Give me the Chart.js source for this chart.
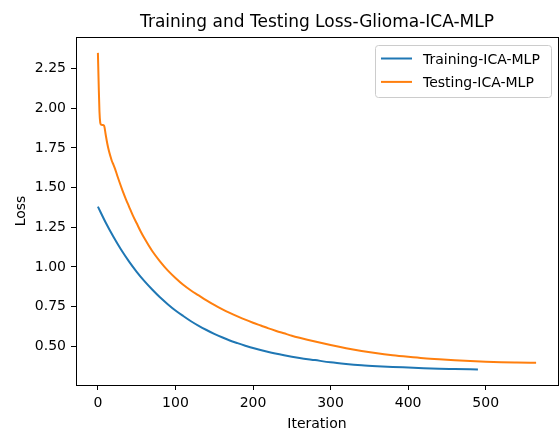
<!DOCTYPE html>
<html>
<head>
<meta charset="utf-8">
<script src="https://cdn.jsdelivr.net/npm/chart.js@4.4.0/dist/chart.umd.min.js"></script>
<style>
  html, body { margin: 0; padding: 0; background: #fff; }
  canvas { display: block; }
</style>
</head>
<body>
<canvas id="lossChart" width="560" height="433"></canvas>
<script>
const chartTitle = "Training and Testing Loss-Glioma-ICA-MLP";
const seriesNames = ["Training-ICA-MLP", "Testing-ICA-MLP"];
const seriesColors = ["#1f77b4", "#ff7f0e"];

const trainIter = [0, 10, 20, 30, 40, 50, 60, 70, 80, 90, 100, 110, 120, 130, 140, 150, 160, 170, 180, 190,
                   200, 220, 240, 260, 280, 300, 320, 340, 360, 380, 400, 420, 440, 460, 480, 490];
const trainLoss = [1.380, 1.280, 1.190, 1.108, 1.035, 0.969, 0.910, 0.857, 0.808, 0.765, 0.725, 0.690, 0.657,
                   0.628, 0.602, 0.578, 0.556, 0.536, 0.519, 0.503, 0.488, 0.463, 0.443, 0.426, 0.412, 0.398,
                   0.388, 0.380, 0.374, 0.369, 0.365, 0.361, 0.358, 0.356, 0.354, 0.353];

const testIter = [0, 1, 2, 3, 4, 6, 8, 10, 12, 14, 16, 18, 20, 22, 25, 28, 32, 36, 40, 45, 50, 55, 60, 70, 80,
                  90, 100, 110, 120, 130, 140, 150, 160, 170, 180, 190, 200, 210, 220, 230, 240, 250, 260, 280,
                  300, 320, 340, 360, 380, 400, 420, 440, 460, 480, 500, 520, 540, 565];
const testLoss = [2.350, 2.150, 1.980, 1.910, 1.897, 1.895, 1.890, 1.835, 1.780, 1.735, 1.700, 1.668, 1.645,
                  1.620, 1.575, 1.532, 1.478, 1.428, 1.382, 1.325, 1.275, 1.225, 1.180, 1.100, 1.035, 0.978,
                  0.930, 0.887, 0.851, 0.820, 0.789, 0.760, 0.734, 0.710, 0.688, 0.667, 0.648, 0.630, 0.612,
                  0.596, 0.581, 0.566, 0.553, 0.529, 0.507, 0.487, 0.470, 0.455, 0.443, 0.433, 0.424, 0.417,
                  0.411, 0.406, 0.402, 0.399, 0.397, 0.395];

const xTicks = [0, 100, 200, 300, 400, 500];
const yTicks = [0.50, 0.75, 1.00, 1.25, 1.50, 1.75, 2.00, 2.25];

const FONT = "'DejaVu Sans', sans-serif";

// frame, title and legend drawn the matplotlib way
const framePlugin = {
    id: "frame",
    afterDraw(chart) {
        const ctx = chart.ctx;
        const a = chart.chartArea;
        ctx.save();
        ctx.strokeStyle = "#000";
        ctx.lineWidth = 1;
        ctx.strokeRect(Math.round(a.left) + 0.5, Math.round(a.top) + 0.5,
                       Math.round(a.right - a.left), Math.round(a.bottom - a.top));

        ctx.fillStyle = "#000";
        ctx.font = "17px " + FONT;
        ctx.textAlign = "center";
        ctx.textBaseline = "alphabetic";
        ctx.fillText(chartTitle, (a.left + a.right) / 2, 27);

        // legend box
        const bx = 375, by = 45, bw = 176, bh = 52;
        ctx.beginPath();
        ctx.roundRect(bx + 0.5, by + 0.5, bw, bh, 3);
        ctx.fillStyle = "rgba(255,255,255,0.8)";
        ctx.fill();
        ctx.strokeStyle = "#cccccc";
        ctx.stroke();

        ctx.font = "14px " + FONT;
        ctx.textAlign = "left";
        chart.data.datasets.forEach((ds, i) => {
            const y = 58.5 + i * 23.4;
            ctx.strokeStyle = ds.borderColor;
            ctx.lineWidth = 2;
            ctx.beginPath();
            ctx.moveTo(381, y);
            ctx.lineTo(412, y);
            ctx.stroke();
            ctx.fillStyle = "#000";
            ctx.fillText(ds.label, 423, y + 5.5);
        });
        ctx.restore();
    }
};

const ctx = document.getElementById("lossChart").getContext("2d");

new Chart(ctx, {
    type: "line",
    data: {
        datasets: [
            {
                label: seriesNames[0],
                data: trainIter.map((it, i) => ({x: it, y: trainLoss[i]})),
                borderColor: seriesColors[0],
                borderWidth: 2,
                pointRadius: 0,
                cubicInterpolationMode: "monotone",
                fill: false
            },
            {
                label: seriesNames[1],
                data: testIter.map((it, i) => ({x: it, y: testLoss[i]})),
                borderColor: seriesColors[1],
                borderWidth: 2,
                pointRadius: 0,
                cubicInterpolationMode: "monotone",
                fill: false
            }
        ]
    },
    options: {
        responsive: false,
        animation: false,
        layout: {padding: {top: 37, right: 2, left: 0, bottom: 0}},
        plugins: {
            legend: {display: false},
            title: {display: false},
            tooltip: {enabled: false}
        },
        scales: {
            x: {
                type: "linear",
                min: -28.25,
                max: 593.25,
                afterBuildTicks: scale => { scale.ticks = xTicks.map(v => ({value: v})); },
                afterFit: scale => { scale.height = 48; },
                grid: {drawOnChartArea: false, drawTicks: true, tickLength: 5, tickColor: "#000", tickWidth: 1},
                border: {display: false},
                ticks: {color: "#000", font: {family: FONT, size: 14}, padding: 5, maxRotation: 0},
                title: {display: true, text: "Iteration", color: "#000",
                        font: {family: FONT, size: 14}, padding: {top: 0, bottom: 0}}
            },
            y: {
                type: "linear",
                min: 0.255,
                max: 2.45,
                afterBuildTicks: scale => { scale.ticks = yTicks.map(v => ({value: v})); },
                afterFit: scale => { scale.width = 76; },
                grid: {drawOnChartArea: false, drawTicks: true, tickLength: 5, tickColor: "#000", tickWidth: 1},
                border: {display: false},
                ticks: {color: "#000", font: {family: FONT, size: 14}, padding: 5,
                        callback: v => Number(v).toFixed(2)},
                title: {display: true, text: "Loss", color: "#000",
                        font: {family: FONT, size: 14}, padding: {top: 13, bottom: 0}}
            }
        }
    },
    plugins: [framePlugin]
});
</script>
</body>
</html>
